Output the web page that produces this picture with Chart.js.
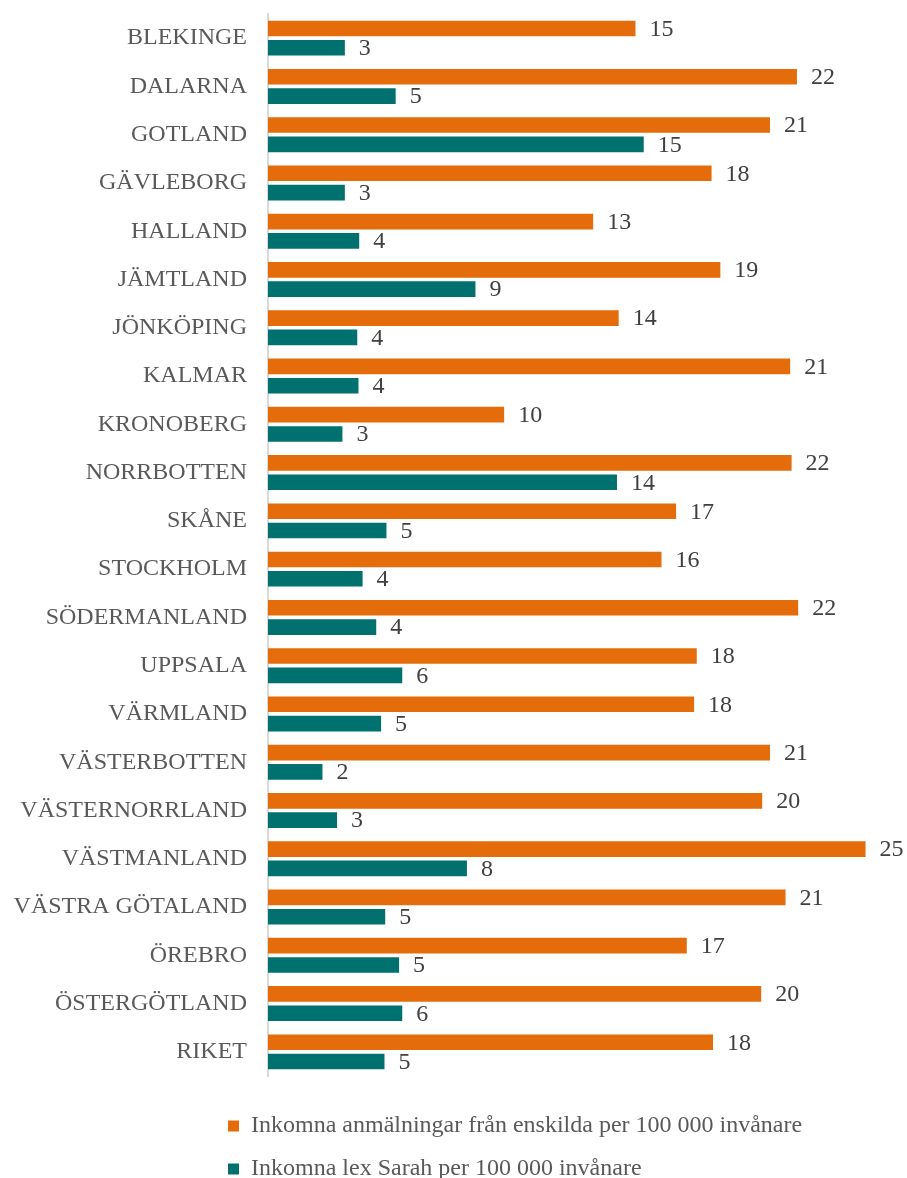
<!DOCTYPE html>
<html>
<head>
<meta charset="utf-8">
<script src="https://cdn.jsdelivr.net/npm/chart.js@4"></script>
<style>
  html, body { margin: 0; padding: 0; background: #fff; overflow: hidden; }
  #wrap { width: 907px; height: 1191px; position: relative; }
</style>
</head>
<body>
<div id="wrap"><canvas id="myChart"></canvas></div>
<script>
// län
var categories = ["BLEKINGE", "DALARNA", "GOTLAND", "GÄVLEBORG", "HALLAND", "JÄMTLAND",
  "JÖNKÖPING", "KALMAR", "KRONOBERG", "NORRBOTTEN", "SKÅNE", "STOCKHOLM",
  "SÖDERMANLAND", "UPPSALA", "VÄRMLAND", "VÄSTERBOTTEN", "VÄSTERNORRLAND",
  "VÄSTMANLAND", "VÄSTRA GÖTALAND", "ÖREBRO", "ÖSTERGÖTLAND", "RIKET"];

// anmälningar från enskilda per 100 000 invånare
var enskilda = [15.11, 21.75, 20.64, 18.24, 13.37, 18.6, 14.42, 21.47, 9.71, 21.53, 16.78,
  16.18, 21.8, 17.63, 17.52, 20.64, 20.32, 24.57, 21.28, 17.22, 20.28, 18.3];

// lex Sarah per 100 000 invånare
var lexSarah = [3.16, 5.25, 15.45, 3.16, 3.75, 8.53, 3.67, 3.72, 3.06, 14.35, 4.87,
  3.89, 4.45, 5.52, 4.65, 2.24, 2.84, 8.18, 4.82, 5.39, 5.52, 4.79];

var seriesNames = ["Inkomna anmälningar från enskilda per 100 000 invånare",
  "Inkomna lex Sarah per 100 000 invånare"];

var serif = "'Liberation Serif', 'Times New Roman', serif";

// värden vid staplarna
var valueLabels = {
  id: "valueLabels",
  afterDatasetsDraw: function (chart) {
    var ctx = chart.ctx;
    ctx.save();
    ctx.font = "24px " + serif;
    ctx.fillStyle = "#404040";
    ctx.textAlign = "left";
    ctx.textBaseline = "middle";
    chart.data.datasets.forEach(function (ds, i) {
      chart.getDatasetMeta(i).data.forEach(function (bar, j) {
        ctx.fillText(String(Math.round(ds.data[j])), bar.x + 14, bar.y + 1);
      });
    });
    ctx.restore();
  },
};

// flytta förklaringen till höger om axeltexterna
var legendShift = {
  id: "legendShift",
  afterLayout: function (chart) {
    if (chart.legend) chart.legend.left = 209;
  },
};

var ctx = document.getElementById("myChart").getContext("2d");
var chart = new Chart(ctx, {
  type: "bar",
  data: {
    labels: categories,
    datasets: [
      {
        label: seriesNames[0],
        data: enskilda,
        backgroundColor: "#E46C0A",
        categoryPercentage: 0.8,
        barPercentage: 0.81,
      },
      {
        label: seriesNames[1],
        data: lexSarah,
        backgroundColor: "#01716F",
        categoryPercentage: 0.8,
        barPercentage: 0.81,
      },
    ],
  },
  plugins: [valueLabels, legendShift],
  options: {
    indexAxis: "y",
    responsive: true,
    maintainAspectRatio: false,
    animation: false,
    layout: { padding: { left: 0, right: 31, top: 14, bottom: 0 } },
    scales: {
      x: {
        min: 0,
        max: 25,
        grid: { display: false },
        border: { display: false },
        ticks: { display: false },
        afterFit: function (scale) { scale.height = 19; },
      },
      y: {
        grid: { display: false, drawTicks: false },
        border: { display: true, color: "#d9d9d9", width: 2 },
        ticks: {
          color: "#595959",
          padding: 21,
          font: { family: serif, size: 24 },
        },
        afterFit: function (scale) {
          scale.width = 268;
          scale.paddingTop = 0;
          scale.paddingBottom = 0;
        },
      },
    },
    plugins: {
      tooltip: { enabled: false },
      legend: {
        position: "bottom",
        align: "start",
        labels: {
          boxWidth: 11,
          boxHeight: 11,
          padding: 19,
          color: "#595959",
          font: { family: serif, size: 24 },
        },
      },
    },
  },
});
</script>
</body>
</html>
